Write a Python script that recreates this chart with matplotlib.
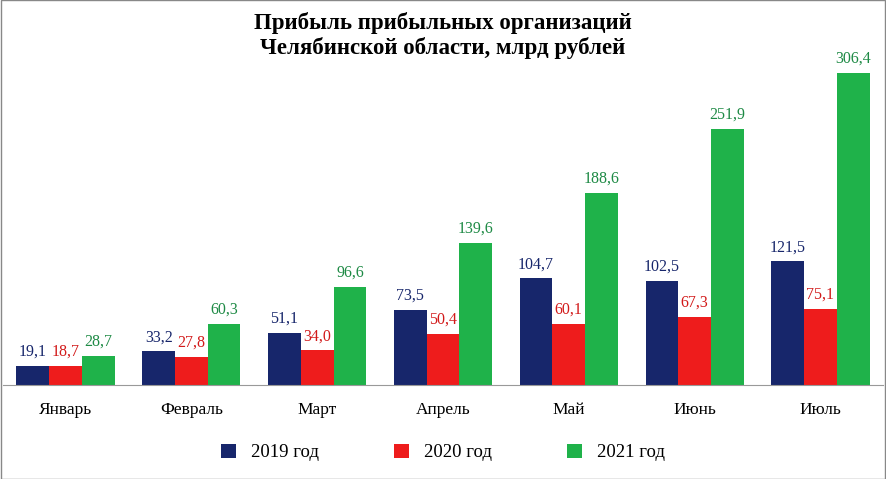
import matplotlib
matplotlib.use("Agg")
import matplotlib.pyplot as plt
import numpy as np

months = ["Январь", "Февраль", "Март", "Апрель", "Май", "Июнь", "Июль"]
y2019 = [19.1, 33.2, 51.1, 73.5, 104.7, 102.5, 121.5]
y2020 = [18.7, 27.8, 34.0, 50.4, 60.1, 67.3, 75.1]
y2021 = [28.7, 60.3, 96.6, 139.6, 188.6, 251.9, 306.4]
series_names = ["2019 год", "2020 год", "2021 год"]

colors = ["#17266b", "#ee1c1c", "#1fb24a"]
label_colors = ["#17266b", "#d21a1a", "#1e8a45"]

fig = plt.figure(figsize=(8.86, 4.79), dpi=100)
ax = fig.add_axes([0.003, 0.196, 0.994, 0.723])
x = np.arange(len(months))
w = 0.26
for i, (vals, c, lc, name) in enumerate(zip([y2019, y2020, y2021], colors, label_colors, series_names)):
    bars = ax.bar(x + (i - 1) * w, vals, w, color=c, label=name)
    for b, v in zip(bars, vals):
        ax.text(b.get_x() + b.get_width() / 2, v + 6, f"{v:.1f}".replace(".", ","),
                ha="center", va="bottom", fontsize=11.5, color=lc, family="Liberation Serif")

ax.set_xlim(-0.5, 6.5)
ax.set_ylim(0, 340)
ax.set_yticks([])
ax.set_xticks(x)
ax.set_xticklabels(months, family="Liberation Serif", fontsize=12.5)
ax.tick_params(axis="x", length=0, pad=12)
for s in ["top", "right", "left"]:
    ax.spines[s].set_visible(False)
ax.spines["bottom"].set_color("#999999")

fig.text(0.5, 0.975, "Прибыль прибыльных организаций\nЧелябинской области, млрд рублей",
         ha="center", va="top", fontsize=16.5, fontweight="bold", family="Liberation Serif",
         linespacing=1.2)
leg = fig.legend(loc="center", bbox_to_anchor=(0.5, 0.055), ncol=3, frameon=False,
                 prop={"family": "Liberation Serif", "size": 13.5}, handlelength=0.8,
                 handleheight=0.8, columnspacing=4)
fig.patches.append(plt.Rectangle((0.001, 0.001), 0.998, 0.998, transform=fig.transFigure,
                                 fill=False, edgecolor="#888888", lw=1))
fig.savefig("out.png", dpi=100)
